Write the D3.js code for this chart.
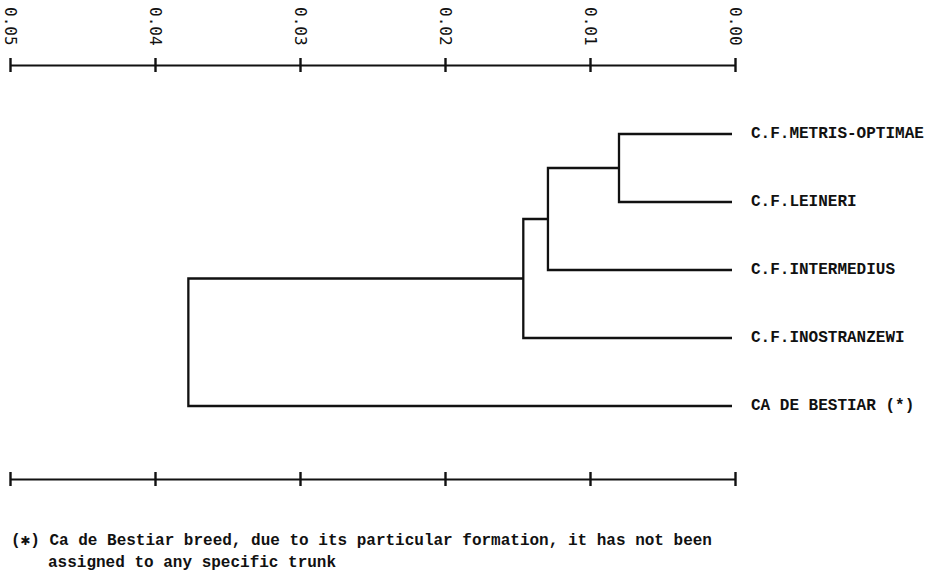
<!DOCTYPE html>
<html>
<head>
<meta charset="utf-8">
<script src="https://cdn.jsdelivr.net/npm/d3@7"></script>
<style>
  body { margin: 0; background: #fff; }
  svg { display: block; }
</style>
</head>
<body>
<div id="chart"></div>
<script>
// Leaves, top to bottom
const leaves = [
  'C.F.METRIS-OPTIMAE',
  'C.F.LEINERI',
  'C.F.INTERMEDIUS',
  'C.F.INOSTRANZEWI',
  'CA DE BESTIAR (*)',
];
// Merges: [child a, child b, distance]; leaves are 0..4, merged nodes get 5, 6, ...
const merges = [
  [0, 1, 0.0080],
  [5, 2, 0.0129],
  [6, 3, 0.0146],
  [7, 4, 0.0377],
];
const tickValues = [0.05, 0.04, 0.03, 0.02, 0.01, 0.00];
const footnote = [
  '(\u2731) Ca de Bestiar breed, due to its particular formation, it has not been',
  'assigned to any specific trunk',
];

const W = 928, H = 581;
const CFG = {
  topAxisY: 65,
  bottomAxisY: 479,
  leafTop: 134,
  leafBottom: 406,
  tickHalf: 7,
  labelFont: '"Liberation Mono", "DejaVu Sans Mono", monospace',
  tickFont: '"DejaVu Sans Mono", monospace',
};

const svg = d3.select('#chart').append('svg')
  .attr('width', W).attr('height', H)
  .attr('viewBox', `0 0 ${W} ${H}`);

svg.append('rect').attr('width', W).attr('height', H).attr('fill', '#fff');

const x = d3.scaleLinear().domain([0.05, 0]).range([10, 735]);
const y = d3.scalePoint().domain(leaves).range([CFG.leafTop, CFG.leafBottom]);

// Axes (top with labels, bottom without)
const drawAxis = (yPos, withLabels) => {
  const g = svg.append('g')
    .attr('transform', `translate(0,${yPos})`)
    .call(d3.axisBottom(x).tickValues(tickValues).tickSizeOuter(0).tickFormat(''));
  g.select('.domain').attr('stroke', '#111').attr('stroke-width', 2.2);
  g.selectAll('.tick line')
    .attr('y1', -CFG.tickHalf).attr('y2', CFG.tickHalf)
    .attr('stroke', '#111').attr('stroke-width', 2.4);
  g.selectAll('.tick text').remove();
  if (withLabels) {
    svg.selectAll('text.tick-label')
      .data(tickValues)
      .join('text')
      .attr('class', 'tick-label')
      .attr('transform', d => `translate(${x(d)},7) rotate(90)`)
      .attr('dominant-baseline', 'central')
      .attr('font-family', CFG.tickFont)
      .attr('font-size', 16)
      .attr('fill', '#111')
      .text(d3.format('.2f'));
  }
};
drawAxis(CFG.topAxisY, true);
drawAxis(CFG.bottomAxisY, false);

// Tree
const nodes = leaves.map(name => ({ h: 0, y: y(name), leaf: true }));
merges.forEach(([a, b, h]) => {
  nodes.push({ h, y: (nodes[a].y + nodes[b].y) / 2, a, b });
});
const endX = n => n.leaf ? x(0) - 3 : x(n.h);

const tree = svg.append('g')
  .attr('fill', 'none')
  .attr('stroke', '#111')
  .attr('stroke-width', 2.3)
  .attr('stroke-linejoin', 'miter');

nodes.filter(n => !n.leaf).forEach(n => {
  const ca = nodes[n.a], cb = nodes[n.b];
  const p = d3.path();
  p.moveTo(endX(ca), ca.y);
  p.lineTo(x(n.h), ca.y);
  p.lineTo(x(n.h), cb.y);
  p.lineTo(endX(cb), cb.y);
  tree.append('path').attr('d', p.toString());
});

svg.selectAll('text.leaf')
  .data(leaves)
  .join('text')
  .attr('class', 'leaf')
  .attr('x', x(0) + 16)
  .attr('y', d => y(d))
  .attr('dominant-baseline', 'central')
  .attr('font-family', CFG.labelFont)
  .attr('font-weight', 'bold')
  .attr('font-size', 16)
  .attr('fill', '#111')
  .text(d => d);

// Footnote
svg.selectAll('text.note')
  .data(footnote)
  .join('text')
  .attr('class', 'note')
  .attr('x', (d, i) => i === 0 ? 11 : 48)
  .attr('y', (d, i) => 545 + i * 22)
  .attr('font-family', CFG.labelFont)
  .attr('font-weight', 'bold')
  .attr('font-size', 16)
  .attr('fill', '#111')
  .text(d => d);
</script>
</body>
</html>
